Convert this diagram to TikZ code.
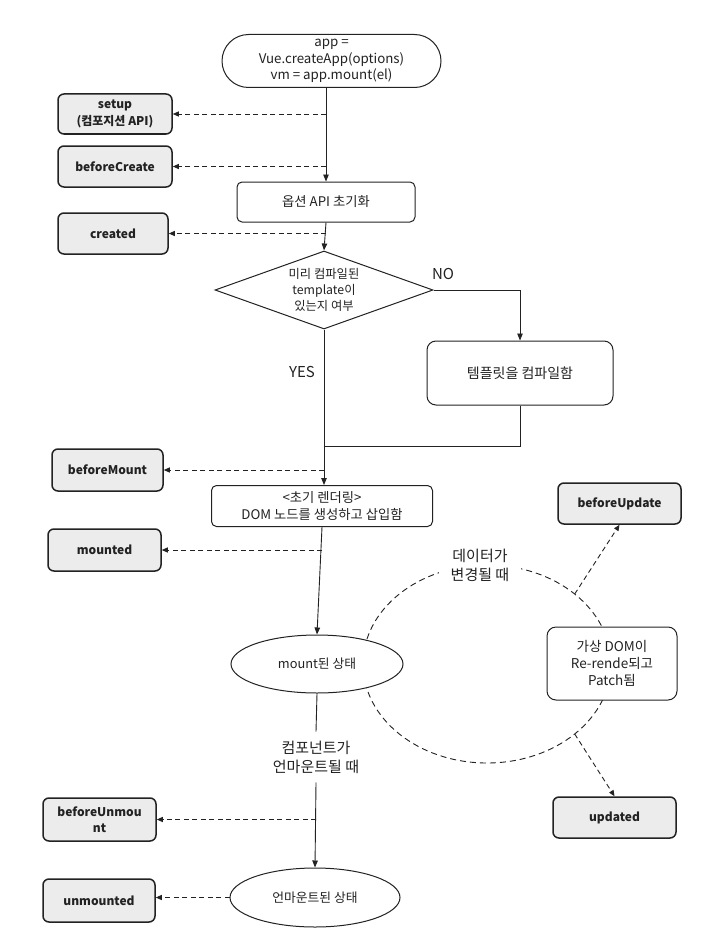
\documentclass[tikz,border=0pt]{standalone}
\usepackage{fontspec}
\setmainfont{Noto Sans CJK KR}
\usetikzlibrary{shapes.geometric,arrows.meta}
\definecolor{ink}{HTML}{222222}
\definecolor{hookfill}{HTML}{ECECEC}
\begin{document}
\begin{tikzpicture}[x=1pt,y=-1pt,
  base/.style={draw=ink, line width=1pt, align=center, inner sep=0pt, text=ink, fill=white, font=\fontsize{13.3}{16.5}\selectfont},
  proc/.style={base, rectangle, rounded corners=5pt},
  hook/.style={draw=ink, line width=1.5pt, fill=hookfill, rounded corners=6pt, align=center, inner sep=0pt, text=ink, font=\bfseries\fontsize{12}{16.5}\selectfont},
  flow/.style={draw=ink, line width=0.9pt, -{Triangle[length=7pt,width=5.5pt]}},
  plain/.style={draw=ink, line width=0.9pt},
  hk/.style={draw=ink, line width=0.9pt, dash pattern=on 5pt off 3.5pt, -{Triangle[length=6pt,width=5pt]}},
  cyc/.style={draw=ink, line width=0.9pt, dash pattern=on 6pt off 4pt},
  lbl/.style={font=\fontsize{15}{19}\selectfont, align=center, text=ink, inner sep=0pt}
]
\useasboundingbox[fill=white] (0,0) rectangle (724,947);

% update cycle (drawn first, covered by filled nodes)
\coordinate (cycc) at (487,664);
\draw[cyc] (cycc) ellipse [x radius=124pt, y radius=99pt];
\coordinate (cycU) at (574.7,594);
\coordinate (cycD) at (574.7,734);

% main flow nodes
\node[base, rounded corners=26.5pt, minimum width=219pt, minimum height=53pt] (start) at (331.5,61) {app =\\Vue.createApp(options)\\vm = app.mount(el)};
\node[proc, minimum width=178pt, minimum height=40pt] (options) at (326,202) {옵션 API 초기화};
\node[base, diamond, aspect=2.8, minimum width=218pt, minimum height=78pt, font=\fontsize{12.3}{16}\selectfont] (dia) at (324,290) {미리 컴파일된\\template이\\있는지 여부};
\node[proc, rounded corners=9pt, minimum width=186pt, minimum height=64pt, font=\fontsize{14}{17}\selectfont] (compile) at (520,373) {템플릿을 컴파일함};
\coordinate (join) at (324,446);
\node[proc, minimum width=221pt, minimum height=41pt] (render) at (322,506) {<초기 렌더링>\\DOM 노드를 생성하고 삽입함};
\node[base, ellipse, minimum width=172pt, minimum height=58pt, font=\fontsize{12.8}{16}\selectfont] (mount) at (317,664) {mount된 상태};
\node[lbl, inner ysep=9pt] (unlbl) at (316,757) {컴포넌트가\\언마운트될 때};
\node[base, ellipse, minimum width=170pt, minimum height=59pt, font=\fontsize{12.8}{16}\selectfont] (unm) at (315,897.5) {언마운트된 상태};

% update side
\node[lbl, fill=white, inner xsep=12pt, inner ysep=3pt] (datalbl) at (480,565) {데이터가\\변경될 때};
\node[proc, rounded corners=9pt, minimum width=130pt, minimum height=73pt, font=\fontsize{13.5}{17}\selectfont] (vdom) at (612,663.5) {가상 DOM이\\Re-rende되고\\Patch됨};

% labels
\node[lbl] (no) at (443,274) {NO};
\node[lbl] (yes) at (302,372) {YES};

% hooks
\node[hook, minimum width=114pt, minimum height=40pt] (setup) at (115,114) {setup\\(컴포지션 API)};
\node[hook, minimum width=114pt, minimum height=41pt] (bcreate) at (115,166.5) {beforeCreate};
\node[hook, minimum width=110pt, minimum height=41pt] (created) at (113,233.5) {created};
\node[hook, minimum width=111pt, minimum height=42pt] (bmount) at (107.5,470) {beforeMount};
\node[hook, minimum width=113pt, minimum height=42pt] (mounted) at (104.5,550) {mounted};
\node[hook, minimum width=123pt, minimum height=41pt] (bupdate) at (619.5,503.5) {beforeUpdate};
\node[hook, minimum width=123pt, minimum height=41pt] (updated) at (614.5,817.5) {updated};
\node[hook, minimum width=113pt, minimum height=43pt] (bunmount) at (99.5,819.5) {beforeUnmou\\nt};
\node[hook, minimum width=112pt, minimum height=43pt] (unmounted) at (99,900.5) {unmounted};

% connectors
\draw[flow] (options.north |- start.south) -- (options.north);
\draw[flow] (options.south) -- (dia.north);
\draw[flow] (dia.east) -| (compile.north);
\draw[plain] (compile.south) |- (join);
\draw[flow] (dia.south) -- (dia.south |- render.north);
\draw[flow] (render.south) -- (mount.north);
\draw[plain] (mount.south) -- (unlbl.north);
\draw[flow] (unlbl.south) -- (unm.north);

\draw[hk] (options.north |- setup.east) -- (setup.east);
\draw[hk] (options.north |- bcreate.east) -- (bcreate.east);
\draw[hk] (options.south |- created.east) -- (created.east);
\draw[hk] (dia.south |- bmount.east) -- (bmount.east);
\draw[hk] (render.south |- mounted.east) -- (mounted.east);
\draw[hk] (unlbl.south |- bunmount.east) -- (bunmount.east);
\draw[hk] (unm.west) -- (unm.west -| unmounted.east);
\draw[hk] (cycU) -- (bupdate.south);
\draw[hk] (cycD) -- (updated.north);
\end{tikzpicture}
\end{document}
